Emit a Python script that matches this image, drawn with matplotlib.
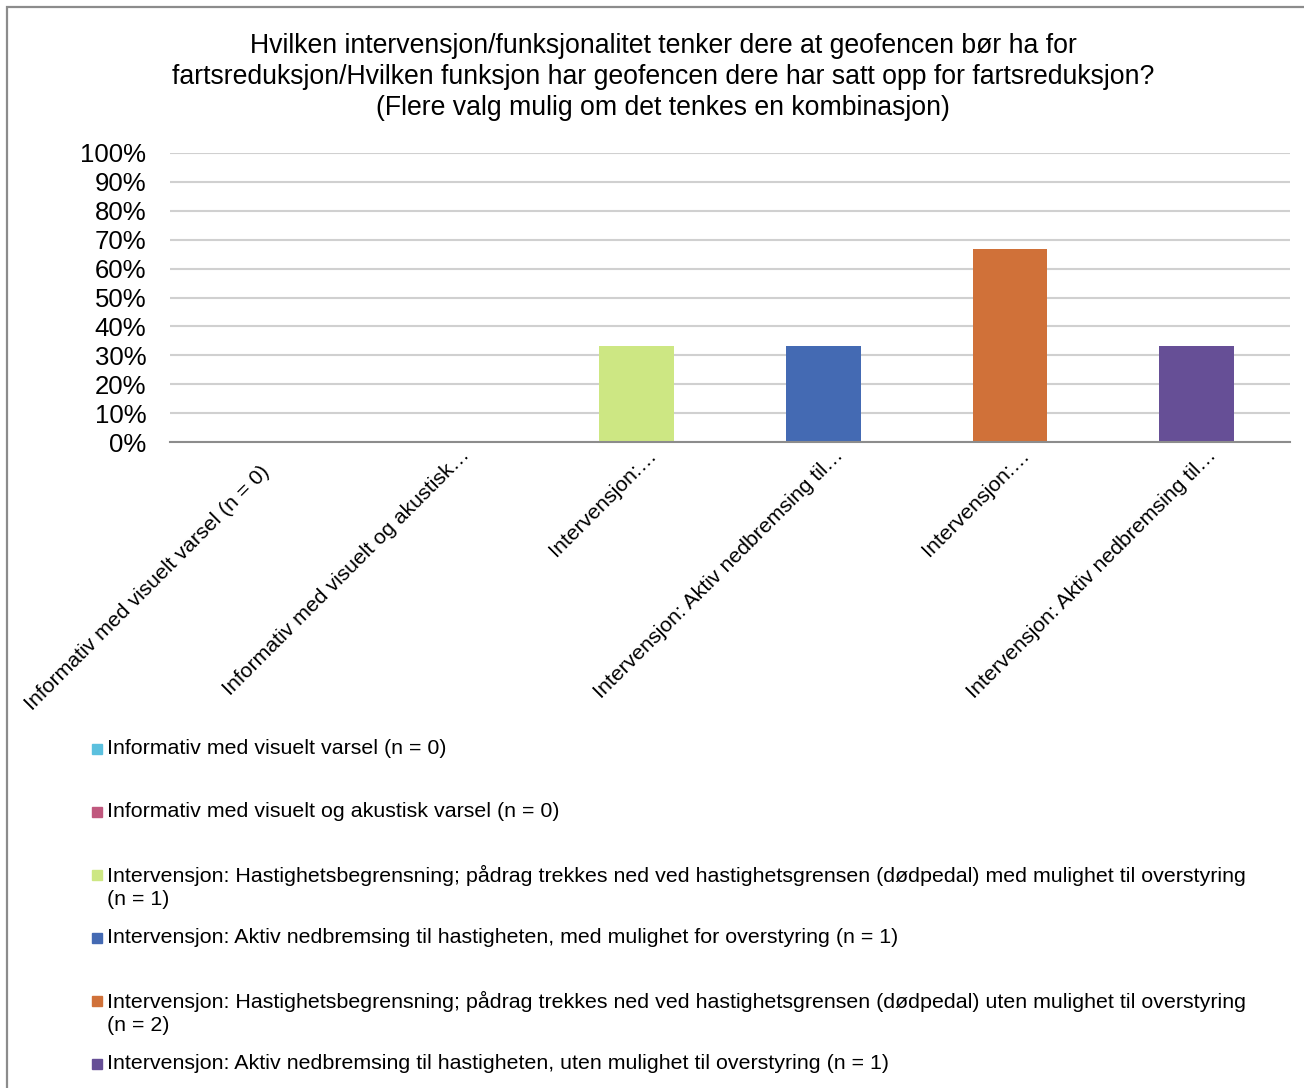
import matplotlib
matplotlib.use("Agg")
import matplotlib.pyplot as plt
from matplotlib.patches import Rectangle
from matplotlib.ticker import PercentFormatter
from matplotlib.transforms import ScaledTranslation

plt.rcParams['font.family'] = ['Liberation Sans', 'DejaVu Sans']

# data
tick_labels = [
    "Informativ med visuelt varsel (n = 0)",
    "Informativ med visuelt og akustisk…",
    "Intervensjon:…",
    "Intervensjon: Aktiv nedbremsing til…",
    "Intervensjon:…",
    "Intervensjon: Aktiv nedbremsing til…",
]
legend_labels = [
    "Informativ med visuelt varsel (n = 0)",
    "Informativ med visuelt og akustisk varsel (n = 0)",
    "Intervensjon: Hastighetsbegrensning; pådrag trekkes ned ved hastighetsgrensen (dødpedal) med mulighet til overstyring\n(n = 1)",
    "Intervensjon: Aktiv nedbremsing til hastigheten, med mulighet for overstyring (n = 1)",
    "Intervensjon: Hastighetsbegrensning; pådrag trekkes ned ved hastighetsgrensen (dødpedal) uten mulighet til overstyring\n(n = 2)",
    "Intervensjon: Aktiv nedbremsing til hastigheten, uten mulighet til overstyring (n = 1)",
]
values = [0.0, 0.0, 1/3, 1/3, 2/3, 1/3]
colors = ["#5BC0DE", "#C0587E", "#CDE783", "#446AB3", "#D07139", "#664F96"]

W, H = 1304, 1088
fig = plt.figure(figsize=(W / 100, H / 100), dpi=100)

# outer chart border (cut off at right/bottom as in the source)
fig.patches.append(Rectangle((7 / W, -0.05), 1.2, 1 - 7 / H + 0.05,
                             transform=fig.transFigure, fill=False,
                             edgecolor="#8c8c8c", linewidth=1.6))

ax = fig.add_axes([170 / W, 1 - 442 / H, 1120 / W, 289 / H])
x = range(len(values))
ax.bar(x, values, width=0.4, color=colors, zorder=3)
ax.set_xlim(-0.5, len(values) - 0.5)
ax.set_ylim(0, 1)
ax.set_yticks([i / 10 for i in range(11)])
ax.yaxis.set_major_formatter(PercentFormatter(1.0, decimals=0))
ax.grid(axis="y", color="#d0d0d0", linewidth=1.5, zorder=0)
for s in ["top", "right", "left"]:
    ax.spines[s].set_visible(False)
ax.spines["bottom"].set_color("#8c8c8c")
ax.spines["bottom"].set_linewidth(1.5)
ax.spines["bottom"].set_zorder(4)
ax.tick_params(axis="y", length=0, labelsize=18.5, pad=17)
ax.tick_params(axis="x", length=0, pad=8)
ax.set_xticks(list(x))
ax.set_xticklabels(tick_labels, rotation=45, ha="right", rotation_mode="anchor",
                   fontsize=15.3)

# nudge rotated labels (pixels: right, down) to sit like the Excel ones
nudges = [(-3, 9), (10, -8), (10, -8), (10, -8), (10, -8), (10, -8)]
for lbl, (dx, dy) in zip(ax.get_xticklabels(), nudges):
    lbl.set_transform(lbl.get_transform() +
                      ScaledTranslation(dx / 100, -dy / 100, fig.dpi_scale_trans))

fig.text(0.5085, 1 - 33 / H,
         "Hvilken intervensjon/funksjonalitet tenker dere at geofencen bør ha for\n"
         "fartsreduksjon/Hvilken funksjon har geofencen dere har satt opp for fartsreduksjon?\n"
         "(Flere valg mulig om det tenkes en kombinasjon)",
         ha="center", va="top", fontsize=19.2, linespacing=1.25)

# legend, one fixed-height row per series
for i, (lab, col) in enumerate(zip(legend_labels, colors)):
    y = 749 + i * 63
    fig.patches.append(Rectangle((92 / W, 1 - (y + 5) / H), 10 / W, 10 / H,
                                 transform=fig.transFigure, color=col))
    fig.text(107 / W, 1 - (y - 10) / H, lab, ha="left", va="top",
             fontsize=15.4, linespacing=1.27)

fig.savefig("out.png", dpi=100)
